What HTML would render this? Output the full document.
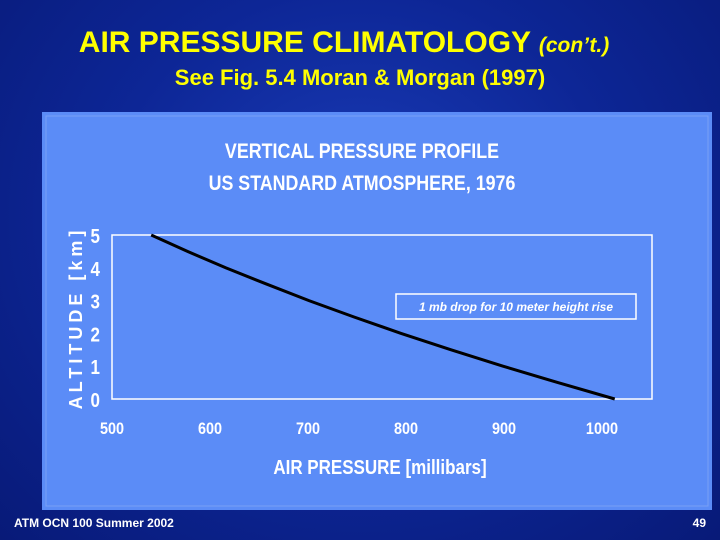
<!DOCTYPE html>
<html><head><meta charset="utf-8"><style>
body{margin:0;width:720px;height:540px;overflow:hidden;background:radial-gradient(ellipse at 50% 40%,#1a3cb8 0%,#0d2696 50%,#081a78 100%);font-family:"Liberation Sans",sans-serif;position:relative}
.t{position:absolute;left:0;width:720px;text-align:center;color:#ffff00;font-weight:bold}
</style></head><body>
<div class="t" style="top:26px;font-size:30px;left:-16px">AIR PRESSURE CLIMATOLOGY <i style="font-size:21px">(con’t.)</i></div>
<div class="t" style="top:65px;font-size:22px">See Fig. 5.4 Moran &amp; Morgan (1997)</div>
<svg width="720" height="540" style="position:absolute;left:0;top:0">
<rect x="42" y="112" width="670" height="398" fill="#5b8cf7"/>
<rect x="46" y="116" width="662" height="390" fill="none" stroke="#7aa0f5" stroke-width="1"/>
<g font-family="Liberation Sans Narrow, Liberation Sans, sans-serif" font-weight="bold" fill="#fff" text-anchor="middle">
<text x="362" y="158" font-size="21" transform="translate(362,0) scale(0.85,1) translate(-362,0)">VERTICAL PRESSURE PROFILE</text>
<text x="362" y="190" font-size="21" transform="translate(362,0) scale(0.85,1) translate(-362,0)">US STANDARD ATMOSPHERE, 1976</text>
<text x="380" y="474" font-size="20" transform="translate(380,0) scale(0.85,1) translate(-380,0)">AIR PRESSURE [millibars]</text>
<text x="0" y="0" font-size="18" letter-spacing="4" transform="translate(82,318) rotate(-90)">ALTITUDE [km]</text>
</g>
<rect x="112" y="235" width="540" height="164" fill="none" stroke="#fff" stroke-width="1.5"/>
<g id="xt" font-family="Liberation Sans Narrow, Liberation Sans, sans-serif" font-weight="bold" font-size="17" fill="#fff" text-anchor="middle"></g>
<g id="yt" font-family="Liberation Sans Narrow, Liberation Sans, sans-serif" font-weight="bold" font-size="20" fill="#fff" text-anchor="end"></g>
<path id="line" fill="none" stroke="#000" stroke-width="3"/>
<rect x="396" y="294" width="240" height="25" fill="none" stroke="#fff" stroke-width="1.5"/>
<text x="516" y="311" font-family="Liberation Sans, sans-serif" font-style="italic" font-weight="bold" font-size="12" fill="#fff" text-anchor="middle">1 mb drop for 10 meter height rise</text>
</svg>
<div style="position:absolute;left:14px;top:516px;color:#fff;font-weight:bold;font-size:12px">ATM OCN 100 Summer 2002</div>
<div style="position:absolute;right:14px;top:516px;color:#fff;font-weight:bold;font-size:12px">49</div>
<script>
const xTicks=[500,600,700,800,900,1000];
const yTicks=[0,1,2,3,4,5];
const altitudes=[0,0.5,1,1.5,2,2.5,3,3.5,4,4.5,5];
const pressures=[1013,955,899,846,795,747,701,658,616,577,540];
const X=p=>112+(p-500)*0.98, Y=a=>399-a*32.8;
const ns='http://www.w3.org/2000/svg';
const xt=document.getElementById('xt'), yt=document.getElementById('yt');
xTicks.forEach(v=>{const t=document.createElementNS(ns,'text');t.setAttribute('x',X(v));t.setAttribute('y',434);t.setAttribute('transform','translate('+X(v)+',0) scale(0.85,1) translate('+(-X(v))+',0)');t.textContent=v;


xt.appendChild(t);});
yTicks.forEach(v=>{const t=document.createElementNS(ns,'text');t.setAttribute('x',100);t.setAttribute('y',Y(v)+8);t.setAttribute('transform','translate(100,0) scale(0.85,1) translate(-100,0)');t.textContent=v;


yt.appendChild(t);});
document.getElementById('line').setAttribute('d',pressures.map((p,i)=>(i?'L':'M')+X(p)+','+Y(altitudes[i])).join(' '));
</script>
</body></html>
